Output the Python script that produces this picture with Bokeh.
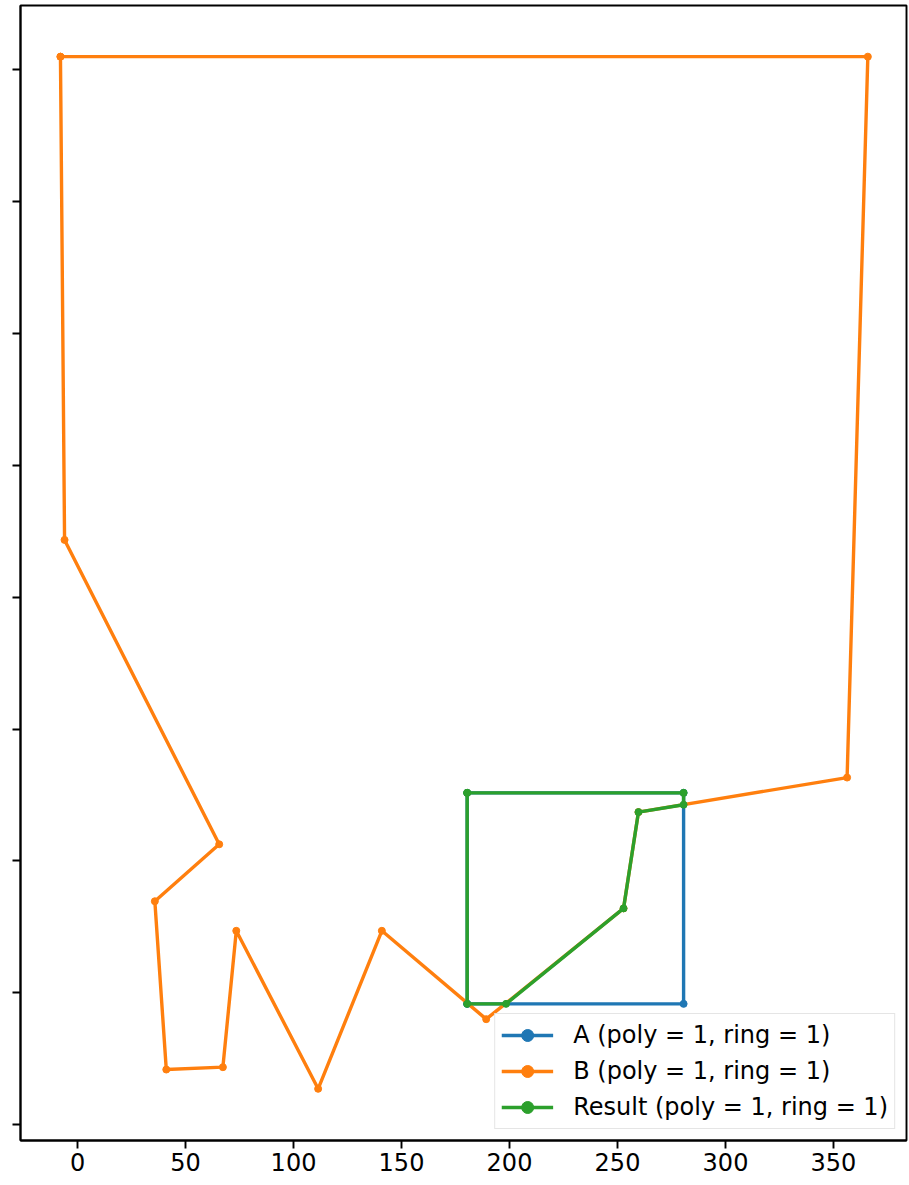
from bokeh.plotting import figure
from bokeh.models import FixedTicker, Range1d, Legend
from bokeh.embed import file_html
from bokeh.resources import INLINE

# Polygon A (square)
a_x = [180.4, 280.6, 280.6, 180.4, 180.4]
a_y = [45.8, 45.8, 125.8, 125.8, 45.8]

# Polygon B
b_x = [-7.9, 365.9, 356.3, 259.7, 252.8, 189.2, 140.9, 111.4, 73.5, 67.3, 41.1, 35.8, 65.6, -6.0, -7.9]
b_y = [404.9, 404.9, 131.6, 118.5, 82.0, 40.0, 73.5, 13.6, 73.5, 21.8, 20.9, 84.7, 106.3, 221.7, 404.9]

# Result polygon
r_x = [180.4, 280.6, 280.6, 259.7, 252.8, 198.4, 180.4, 180.4]
r_y = [125.8, 125.8, 121.3, 118.5, 82.0, 45.8, 45.8, 125.8]

x_ticks = [0, 50, 100, 150, 200, 250, 300, 350]
y_ticks = [0, 50, 100, 150, 200, 250, 300, 350, 400]

labels = ["A (poly = 1, ring = 1)", "B (poly = 1, ring = 1)", "Result (poly = 1, ring = 1)"]
colors = ["#1f77b4", "#ff7f0e", "#2ca02c"]

FONT = "DejaVu Sans"

p = figure(width=909, height=1185, output_backend="svg", toolbar_location=None,
           x_range=Range1d(-26.4, 383.8), y_range=Range1d(-6.0, 424.3),
           min_border_left=20, min_border_right=3, min_border_top=5, min_border_bottom=45)
p.background_fill_color = "white"
p.border_fill_color = "white"
p.grid.visible = False
p.outline_line_color = "black"
p.outline_line_width = 1.9

legend_items = []
for xs, ys, lab, col in zip([a_x, b_x, r_x], [a_y, b_y, r_y], labels, colors):
    l = p.line(xs, ys, line_color=col, line_width=3.4)
    s = p.scatter(xs, ys, size=7, fill_color=col, line_color=col)
    legend_items.append((lab, [l, s]))

legend = Legend(items=legend_items, location="bottom_right")
legend.label_text_font = FONT
legend.label_text_font_size = "24px"
legend.label_text_color = "black"
legend.glyph_width = 52
legend.glyph_height = 30
legend.label_height = 30
legend.label_standoff = 20
legend.spacing = 6
legend.padding = 6
legend.margin = 11
legend.border_line_color = "#cccccc"
legend.border_line_width = 1.5
legend.background_fill_color = "white"
legend.background_fill_alpha = 0.8
p.add_layout(legend, "center")

for ax in (p.xaxis, p.yaxis):
    ax.axis_line_color = "black"
    ax.axis_line_width = 1.9
    ax.major_tick_line_color = "black"
    ax.major_tick_line_width = 1.9
    ax.major_tick_out = 8
    ax.major_tick_in = 0
    ax.minor_tick_line_color = None
    ax.major_label_text_font = FONT
    ax.major_label_text_font_size = "24px"
    ax.major_label_text_color = "black"

p.xaxis.ticker = FixedTicker(ticks=x_ticks)
p.xaxis.major_label_standoff = 4
p.yaxis.ticker = FixedTicker(ticks=y_ticks)
p.yaxis.major_label_overrides = {t: "" for t in y_ticks}
p.yaxis.major_label_standoff = 4

open("out.html", "w").write(file_html(p, INLINE))
